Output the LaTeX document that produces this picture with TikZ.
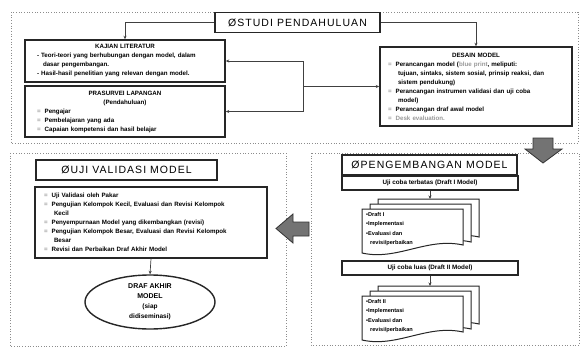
\documentclass[tikz,border=0pt]{standalone}
\usepackage{fontspec}
\setmainfont{Liberation Sans}
\newfontfamily\ttlfont[LetterSpace=10]{Liberation Sans}
\usetikzlibrary{arrows.meta,shapes.geometric}
\newcommand\gb{\textcolor{black!40}{=}\hspace{4pt}}
\newcommand\ctr[1]{\makebox[\linewidth][c]{#1}}
\newcommand\gtx[1]{\textcolor{black!40}{#1}}
\begin{document}
\begin{tikzpicture}[x=1pt,y=-1pt,
  dotbox/.style={draw=black!45, dotted, line width=0.7pt},
  titlebox/.style={draw=black!85, line width=1.6pt, fill=white, inner sep=0pt, font=\fontsize{10.5}{12}\ttlfont},
  listbox/.style={draw=black!85, line width=1.4pt, fill=white, inner sep=0pt, align=left, font=\fontsize{6.2}{9}\selectfont\bfseries},
  subbox/.style={draw=black!85, line width=1.3pt, fill=white, inner sep=0pt, font=\fontsize{6.3}{8}\selectfont\bfseries},
  conn/.style={draw=black!75, line width=0.7pt, -{Stealth[length=3.5pt,width=3pt]}},
  docline/.style={draw=black!85, line width=1pt, fill=white},
  doctext/.style={inner sep=0pt, align=left, font=\fontsize{5.6}{9.5}\selectfont\bfseries},
  bigarrow/.style={fill=black!55, draw=black!80, line width=0.8pt},
  ellbox/.style={ellipse, draw=black!85, line width=1.4pt, fill=white, inner sep=0pt, align=center, font=\fontsize{7}{10}\selectfont\bfseries},
]
\useasboundingbox (0,0) rectangle (581,348);

% dotted regions
\draw[dotbox] (11,12) rectangle (578,143);
\draw[dotbox] (10,153) rectangle (286,346);
\draw[dotbox] (311,153) rectangle (579,345);

% top region
\node[titlebox, minimum width=165pt, minimum height=20pt] (stud) at (297.5,22.5) {ØSTUDI PENDAHULUAN};

\node[listbox, minimum width=200pt, minimum height=42pt, text width=176pt] (kaj) at (125,61) {%
\ctr{KAJIAN LITERATUR}\\
- Teori-teori yang berhubungan dengan model, dalam\\
\hspace*{6pt}dasar pengembangan.\\
- Hasil-hasil penelitian yang relevan dengan model.};

\node[listbox, minimum width=200pt, minimum height=51pt, text width=176pt] (pra) at (125,111.5) {%
\ctr{PRASURVEI LAPANGAN}\\
\ctr{(Pendahuluan)}\\
\gb Pengajar\\
\gb Pembelajaran yang ada\\
\gb Capaian kompetensi dan hasil belajar};

\node[listbox, minimum width=192pt, minimum height=79pt, text width=176pt] (des) at (476,86.5) {%
\ctr{DESAIN MODEL}\\
\gb Perancangan model (\gtx{blue print}, meliputi:\\
\hspace*{10pt}tujuan, sintaks, sistem sosial, prinsip reaksi, dan\\
\hspace*{10pt}sistem pendukung)\\
\gb Perancangan instrumen validasi dan uji coba\\
\hspace*{10pt}model)\\
\gb Perancangan draf awal model\\
\gb \gtx{Desk evaluation.}};

\coordinate (j1) at (303,61);
\coordinate (j2) at (303,111.5);
\draw[conn] (stud.west) -| (kaj.north);
\draw[conn] (stud.east) -| (des.north);
\draw[conn] (j1) -- (kaj.east);
\draw[conn] (j2) -- (pra.east);
\draw[draw=black!75, line width=0.7pt] (j1) -- (j2);
\draw[conn] (j1 |- des.west) -- (des.west);

% down arrow
\draw[bigarrow] (533,138) -- (553,138) -- (553,149) -- (562,149) -- (543,163) -- (525,149) -- (533,149) -- cycle;

% bottom left region
\node[titlebox, minimum width=181pt, minimum height=20pt] (ujit) at (126.5,170) {ØUJI VALIDASI MODEL};

\node[listbox, minimum width=232pt, minimum height=71pt, text width=214pt] (ujil) at (151,222.5) {%
\gb Uji Validasi oleh Pakar\\
\gb Pengujian Kelompok Kecil, Evaluasi dan Revisi Kelompok\\
\hspace*{10pt}Kecil\\
\gb Penyempurnaan Model yang dikembangkan (revisi)\\
\gb Pengujian Kelompok Besar, Evaluasi dan Revisi Kelompok\\
\hspace*{10pt}Besar\\
\gb Revisi dan Perbaikan Draf Akhir Model};

\node[ellbox, minimum width=130pt, minimum height=54pt] (drf) at (150,302) {DRAF AKHIR\\MODEL\\{\fontsize{6.5}{10}\selectfont(siap}\\{\fontsize{6.5}{10}\selectfont didiseminasi)}};
\draw[conn] (ujil.south) -- (drf.north);

% left arrow
\draw[bigarrow] (309,222) -- (309,236) -- (293,236) -- (293,243) -- (276,228.5) -- (293,214) -- (293,222) -- cycle;

% bottom right region
\node[titlebox, minimum width=175pt, minimum height=20pt] (pgt) at (429.5,165) {ØPENGEMBANGAN MODEL};
\node[subbox, minimum width=176pt, minimum height=14pt] (pg1) at (430,183) {Uji coba terbatas (Draft I Model)};

% documents group 1
\draw[docline, shift={(378,199)}] (0,0) -- (101,0) -- (101,38) .. controls (65,30) and (35,52) .. (0,44) -- cycle;
\draw[docline, shift={(370,204)}] (0,0) -- (101,0) -- (101,38) .. controls (65,30) and (35,52) .. (0,44) -- cycle;
\draw[docline, shift={(362,209)}] (0,0) -- (101,0) -- (101,36) .. controls (65,28) and (35,52) .. (0,44) -- cycle;
\coordinate (d1top) at (pg1.south |- 0,199);
\node[doctext, anchor=north west] (d1) at (366,212) {\textbullet Draft I\\\textbullet Implementasi\\\textbullet Evaluasi dan\\\hspace*{4pt}revisi/perbaikan};
\draw[conn] (pg1.south) -- (d1top);

\node[subbox, minimum width=176pt, minimum height=14pt] (pg2) at (430,268) {Uji coba luas (Draft II Model)};

% documents group 2
\draw[docline, shift={(378,286)}] (0,0) -- (101,0) -- (101,38) .. controls (65,30) and (35,52) .. (0,44) -- cycle;
\draw[docline, shift={(370,291)}] (0,0) -- (101,0) -- (101,38) .. controls (65,30) and (35,52) .. (0,44) -- cycle;
\draw[docline, shift={(362,296)}] (0,0) -- (101,0) -- (101,36) .. controls (65,28) and (35,52) .. (0,44) -- cycle;
\coordinate (d2top) at (pg2.south |- 0,286);
\node[doctext, anchor=north west] (d2) at (366,299) {\textbullet Draft II\\\textbullet Implementasi\\\textbullet Evaluasi dan\\\hspace*{4pt}revisi/perbaikan};
\draw[conn] (pg2.south) -- (d2top);
\end{tikzpicture}
\end{document}
